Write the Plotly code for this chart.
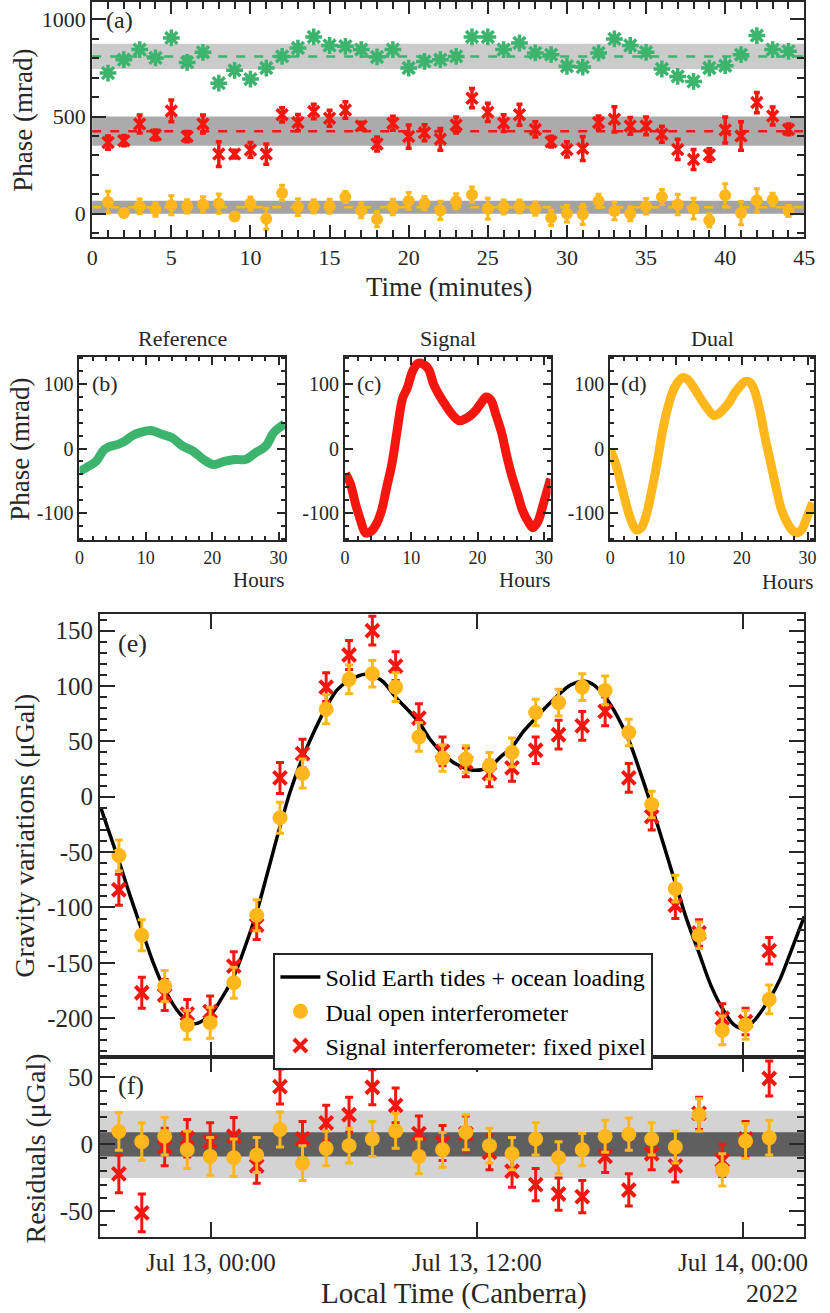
import plotly.graph_objects as go

# ---- panel (a): phase vs time, 1-minute points ----
minutes = [1, 2, 3, 4, 5, 6, 7, 8, 9, 10, 11, 12, 13, 14, 15, 16, 17, 18, 19, 20, 21, 22,
           23, 24, 25, 26, 27, 28, 29, 30, 31, 32, 33, 34, 35, 36, 37, 38, 39, 40, 41, 42, 43, 44]
ref_phase = [724, 793, 845, 802, 905, 779, 831, 672, 738, 693, 750, 810, 853, 910, 866, 862, 845,
             807, 845, 750, 784, 793, 810, 910, 910, 845, 879, 828, 819, 759, 755, 828, 900, 866,
             831, 745, 707, 681, 750, 762, 819, 917, 845, 836]
sig_phase = [366, 376, 462, 405, 529, 397, 462, 307, 307, 328, 307, 509, 469, 526, 491, 534, 452,
             359, 466, 397, 417, 383, 457, 595, 522, 466, 509, 434, 371, 331, 336, 469, 486, 452,
             452, 409, 331, 279, 302, 431, 400, 572, 503, 434]
sig_phase_err = [34, 26, 46, 26, 56, 26, 46, 64, 20, 38, 52, 37, 42, 37, 41, 43, 19, 36, 36, 60, 41,
                 56, 41, 49, 47, 43, 54, 39, 28, 39, 62, 34, 65, 43, 46, 41, 52, 52, 32, 67, 73, 52,
                 46, 28]
dual_phase = [60, 3, 38, 21, 43, 38, 48, 52, -14, 52, -26, 107, 34, 38, 38, 86, 17, -28, 34, 66, 55,
              17, 64, 98, 26, 34, 38, 26, -21, 0, -3, 66, 14, 0, 38, 86, 47, 26, -34, 95, 3, 69, 72, 14]
dual_phase_err = [56, 15, 38, 34, 49, 34, 39, 50, 15, 34, 54, 39, 43, 34, 36, 28, 38, 39, 40, 43, 34,
                  47, 39, 39, 54, 36, 33, 34, 40, 43, 52, 34, 45, 36, 40, 39, 53, 53, 34, 59, 60, 60,
                  33, 28]
# mean and spread of each series (dashed line + grey band)
ref_mean, ref_lo, ref_hi = 810, 745, 875
sig_mean, sig_lo, sig_hi = 425, 350, 500
dual_mean, dual_lo, dual_hi = 33, 0, 67

# ---- panels (b)-(d): long-term phase drift ----
ref_hours = [0, 1.3, 2.5, 3.7, 4.5, 5.7, 6.9, 8.0, 9.2, 10.8, 12.4, 13.9, 15.5, 17.1, 18.7, 20.2,
             21.8, 23.4, 25.0, 26.5, 28.1, 29.3, 30.9]
ref_drift = [-36, -28, -20, -2, 3, 6, 12, 20, 25, 28, 22, 17, 4, -4, -17, -25, -20, -17, -17, -7,
             4, 25, 38]
sig_hours = [0.1, 0.8, 1.6, 2.4, 3.1, 3.9, 4.7, 5.5, 6.3, 7.1, 7.9, 8.7, 9.4, 10.2, 11.0, 11.8, 12.6,
             13.4, 14.2, 15.0, 15.7, 16.5, 17.3, 18.1, 18.9, 19.7, 20.5, 21.3, 22.0, 22.8, 23.6,
             24.4, 25.2, 26.0, 26.8, 27.6, 28.3, 29.1, 29.9, 31.0]
sig_drift = [-39, -54, -86, -113, -131, -129, -118, -97, -60, -23, 30, 78, 94, 120, 132, 131, 123, 99,
             83, 70, 59, 49, 43, 46, 51, 59, 70, 80, 75, 51, 25, -12, -44, -70, -97, -113, -123,
             -113, -86, -47]
dual_hours = [0, 0.8, 1.6, 2.4, 3.1, 3.9, 4.7, 5.5, 6.3, 7.1, 7.9, 8.7, 9.4, 10.2, 11.0, 11.8, 12.6,
              13.4, 14.2, 15.0, 15.7, 16.5, 17.3, 18.1, 18.9, 19.7, 20.5, 21.3, 22.0, 22.8, 23.6,
              24.4, 25.2, 26.0, 26.8, 27.6, 28.3, 29.1, 29.9, 30.8]
dual_drift = [-2, -23, -54, -86, -110, -126, -123, -102, -65, -23, 25, 62, 86, 102, 110, 107, 96, 83,
              70, 59, 51, 54, 62, 72, 86, 96, 104, 102, 88, 56, 14, -23, -60, -94, -113, -126, -131,
              -126, -107, -84]

# ---- panel (e): gravity, tide model ----
tide_times = ["2022-07-12 19:02", "2022-07-12 19:51", "2022-07-12 20:22", "2022-07-12 20:53",
              "2022-07-12 21:23", "2022-07-12 21:55", "2022-07-12 22:34", "2022-07-12 23:14",
              "2022-07-12 23:58", "2022-07-13 00:29", "2022-07-13 01:02", "2022-07-13 01:33",
              "2022-07-13 02:04", "2022-07-13 02:33", "2022-07-13 03:07", "2022-07-13 03:35",
              "2022-07-13 04:08", "2022-07-13 04:41", "2022-07-13 05:12", "2022-07-13 05:43",
              "2022-07-13 06:14", "2022-07-13 06:58", "2022-07-13 07:42", "2022-07-13 08:20",
              "2022-07-13 09:21", "2022-07-13 09:55", "2022-07-13 10:27", "2022-07-13 11:01",
              "2022-07-13 11:49", "2022-07-13 12:34", "2022-07-13 13:04", "2022-07-13 13:35",
              "2022-07-13 14:06", "2022-07-13 14:39", "2022-07-13 15:13", "2022-07-13 15:41",
              "2022-07-13 16:14", "2022-07-13 16:50", "2022-07-13 17:16", "2022-07-13 17:47",
              "2022-07-13 18:18", "2022-07-13 18:51", "2022-07-13 19:20", "2022-07-13 19:53",
              "2022-07-13 20:26", "2022-07-13 20:57", "2022-07-13 21:28", "2022-07-13 22:01",
              "2022-07-13 22:34", "2022-07-13 23:04", "2022-07-13 23:36", "2022-07-13 23:58",
              "2022-07-14 00:25", "2022-07-14 01:11", "2022-07-14 01:40", "2022-07-14 02:06",
              "2022-07-14 02:46"]
tide_grav = [-10, -58, -90, -120, -149, -174, -195, -205, -197, -182, -162, -135, -104, -69, -27, 5,
             35, 60, 81, 97, 105, 110.6, 105, 90, 68, 51, 39, 30, 24, 27, 36, 45, 59, 71, 83, 92, 101,
             104.3, 101, 90, 74, 51, 24, -9, -44, -78, -111, -141, -171, -191, -206, -209, -204,
             -183, -165, -143, -108]

# ---- panels (e)/(f): hourly measurements ----
meas_times = ["2022-07-12 19:51", "2022-07-12 20:53", "2022-07-12 21:55", "2022-07-12 22:56",
              "2022-07-12 23:58", "2022-07-13 01:02", "2022-07-13 02:04", "2022-07-13 03:07",
              "2022-07-13 04:08", "2022-07-13 05:12", "2022-07-13 06:14", "2022-07-13 07:17",
              "2022-07-13 08:20", "2022-07-13 09:23", "2022-07-13 10:27", "2022-07-13 11:30",
              "2022-07-13 12:34", "2022-07-13 13:35", "2022-07-13 14:39", "2022-07-13 15:41",
              "2022-07-13 16:45", "2022-07-13 17:47", "2022-07-13 18:51", "2022-07-13 19:53",
              "2022-07-13 20:57", "2022-07-13 22:01", "2022-07-13 23:04", "2022-07-14 00:07",
              "2022-07-14 01:11"]
dual_grav = [-53, -125, -171, -206, -204, -168, -107, -19, 21, 79, 106, 111, 99, 54, 35, 34, 28, 40,
             76, 85, 99, 96, 58, -7, -83, -125, -211, -206, -183]
dual_grav_err = [14, 14, 14, 13, 14, 14, 14, 14, 13, 13, 13, 12, 13, 13, 12, 12, 12, 13, 12, 12, 12,
                 13, 12, 12, 12, 12, 13, 13, 13]
signal_grav = [-84, -177, -179, -196, -194, -153, -116, 17, 39, 99, 128, 150, 118, 71, 41, 31, 21,
               26, 42, 56, 64, 77, 17, -18, -98, -123, -200, -203, -139]
signal_grav_err = [14, 14, 14, 13, 14, 13, 13, 14, 13, 13, 13, 13, 13, 13, 13, 13, 12, 12, 12, 13, 13,
                   13, 13, 12, 12, 12, 13, 12, 12]
dual_res = [9.5, 2, 6, -4, -9, -10, -8, 11, -14, -3, -1, 4, 10, -9, -4, 9, -1, -7, 4, -10, -4, 6, 7.5,
            4, -2, 22, -19, 2.5, 5]
signal_res = [-22, -51, -2, 4.5, 2, 6, -16, 43, 4, 16, 22, 42.5, 29, 8, 1, 8, -6, -20, -30, -37, -39,
              -9, -34, -7, -16, 23, -12, 4, 49]
res_err = [14, 14, 14, 14, 14, 14, 13, 13, 13, 13, 13, 13, 13, 13, 13, 13, 13, 12, 12, 12, 12, 12,
           12, 12, 12, 12, 12, 13, 13]
res_inner, res_outer = 9, 25

# tick labels
e_ticks = [-200, -150, -100, -50, 0, 50, 100, 150]
f_ticks = [-50, 0, 50]
drift_ticks = [-100, 0, 100]
date_ticks = ["2022-07-13 00:00", "2022-07-13 12:00", "2022-07-14 00:00"]
date_labels = ["Jul 13, 00:00", "Jul 13, 12:00", "Jul 14, 00:00"]

GREEN = "#3cb46e"
RED = "#f5170f"
YEL = "#ffb71c"
AX = "#262626"
FONT = "Liberation Serif, Times New Roman, Times, DejaVu Serif, serif"

W, H = 830, 1313


def px(x0, x1):
    return [x0 / W, x1 / W]


def py(top, bottom):
    return [1 - bottom / H, 1 - top / H]


def frame(size, **kw):
    d = dict(showline=True, linecolor=AX, linewidth=2, mirror="ticks", ticks="inside",
             tickcolor=AX, tickwidth=2, showgrid=False, zeroline=False,
             tickfont=dict(size=size, color=AX, family=FONT))
    d.update(kw)
    return d


def minor(dt, ln=6):
    return dict(ticks="inside", ticklen=ln, tickwidth=1.5, tickcolor=AX, dtick=dt, showgrid=False)


fig = go.Figure()

# (a)
fig.add_scatter(x=minutes, y=ref_phase, mode="markers", showlegend=False,
                marker=dict(symbol="asterisk-open", size=14, color=GREEN,
                            line=dict(width=3.5, color=GREEN)), xaxis="x", yaxis="y")
fig.add_scatter(x=minutes, y=sig_phase, mode="markers", showlegend=False,
                error_y=dict(type="data", array=sig_phase_err, thickness=3.5, width=3, color=RED),
                marker=dict(symbol="x-thin-open", size=11, color=RED, line=dict(width=3.5, color=RED)),
                xaxis="x", yaxis="y")
fig.add_scatter(x=minutes, y=dual_phase, mode="markers", showlegend=False,
                error_y=dict(type="data", array=dual_phase_err, thickness=3, width=3, color=YEL),
                marker=dict(symbol="circle", size=12, color=YEL), xaxis="x", yaxis="y")

# (b)-(d)
for hrs, vals, col, n in [(ref_hours, ref_drift, GREEN, 2), (sig_hours, sig_drift, RED, 3),
                          (dual_hours, dual_drift, YEL, 4)]:
    fig.add_scatter(x=hrs, y=vals, mode="lines", showlegend=False,
                    line=dict(color=col, width=9, shape="spline"),
                    xaxis="x%d" % n, yaxis="y%d" % n)

# (e)
fig.add_scatter(x=tide_times, y=tide_grav, mode="lines", name="Solid Earth tides + ocean loading",
                line=dict(color="black", width=3.5, shape="spline"), legendrank=1,
                xaxis="x5", yaxis="y5")
fig.add_scatter(x=meas_times, y=signal_grav, mode="markers", name="Signal interferometer: fixed pixel",
                error_y=dict(type="data", array=signal_grav_err, thickness=3, width=4, color=RED),
                marker=dict(symbol="x-thin-open", size=13, color=RED, line=dict(width=4, color=RED)),
                legendrank=3, xaxis="x5", yaxis="y5")
fig.add_scatter(x=meas_times, y=dual_grav, mode="markers", name="Dual open interferometer",
                error_y=dict(type="data", array=dual_grav_err, thickness=3, width=4, color=YEL),
                marker=dict(symbol="circle", size=15, color=YEL), legendrank=2,
                xaxis="x5", yaxis="y5")

# (f)
fig.add_scatter(x=meas_times, y=signal_res, mode="markers", showlegend=False,
                error_y=dict(type="data", array=res_err, thickness=3, width=4, color=RED),
                marker=dict(symbol="x-thin-open", size=13, color=RED, line=dict(width=4, color=RED)),
                xaxis="x6", yaxis="y6")
fig.add_scatter(x=meas_times, y=dual_res, mode="markers", showlegend=False,
                error_y=dict(type="data", array=res_err, thickness=3, width=4, color=YEL),
                marker=dict(symbol="circle", size=15, color=YEL), xaxis="x6", yaxis="y6")

shapes = []
for lo, hi, c in [(ref_lo, ref_hi, "#cbcbcb"), (sig_lo, sig_hi, "#ababab"), (dual_lo, dual_hi, "#a3a3a3")]:
    shapes.append(dict(type="rect", xref="x domain", yref="y", x0=0, x1=1, y0=lo, y1=hi,
                       fillcolor=c, line_width=0, layer="below"))
for m, c in [(ref_mean, GREEN), (sig_mean, RED), (dual_mean, YEL)]:
    shapes.append(dict(type="line", xref="x domain", yref="y", x0=0, x1=1, y0=m, y1=m,
                       line=dict(color=c, width=2.5, dash="dash"), layer="below"))
shapes.append(dict(type="rect", xref="x6 domain", yref="y6", x0=0, x1=1, y0=-res_outer, y1=res_outer,
                   fillcolor="#d3d3d3", line_width=0, layer="below"))
shapes.append(dict(type="rect", xref="x6 domain", yref="y6", x0=0, x1=1, y0=-res_inner, y1=res_inner,
                   fillcolor="#5f5f5f", line_width=0, layer="below"))

xr = ["2022-07-12 19:00", "2022-07-14 02:46"]

fig.update_layout(
    width=W, height=H, margin=dict(l=0, r=0, t=0, b=0),
    paper_bgcolor="white", plot_bgcolor="white",
    font=dict(family=FONT, color=AX),
    shapes=shapes,
    xaxis=frame(22, domain=px(88, 815), anchor="y", range=[0, 45], dtick=5, ticklen=12,
                minor=minor(1, 7)),
    yaxis=frame(22, domain=py(2, 237), anchor="x", range=[-120, 1090], tickvals=[0, 500, 1000],
                ticklen=14, minor=minor(100, 7)),
    xaxis2=frame(18, domain=px(75, 285), anchor="y2", range=[0, 31], dtick=10, ticklen=8,
                 minor=minor(2, 4)),
    yaxis2=frame(20, domain=py(357, 540), anchor="x2", range=[-142, 142], tickvals=drift_ticks,
                 ticktext=[str(v) for v in drift_ticks], ticklen=8, minor=minor(20, 4)),
    xaxis3=frame(18, domain=px(346, 556), anchor="y3", range=[0, 31], dtick=10, ticklen=8,
                 minor=minor(2, 4)),
    yaxis3=frame(20, domain=py(357, 540), anchor="x3", range=[-142, 142], tickvals=drift_ticks,
                 ticktext=[str(v) for v in drift_ticks], ticklen=8, minor=minor(20, 4)),
    xaxis4=frame(18, domain=px(617, 825), anchor="y4", range=[0, 31], dtick=10, ticklen=8,
                 minor=minor(2, 4)),
    yaxis4=frame(20, domain=py(357, 540), anchor="x4", range=[-142, 142], tickvals=drift_ticks,
                 ticktext=[str(v) for v in drift_ticks], ticklen=8, minor=minor(20, 4)),
    xaxis5=frame(25, domain=px(96, 815), anchor="y5", type="date", range=xr, tickvals=date_ticks,
                 showticklabels=False, ticklen=15),
    yaxis5=frame(25, domain=py(614, 1057), anchor="x5", range=[-235, 165], tickvals=e_ticks,
                 ticktext=[str(v) for v in e_ticks], ticklen=15, minor=minor(10, 7)),
    xaxis6=frame(25, domain=px(96, 815), anchor="y6", type="date", range=xr, tickvals=date_ticks,
                 ticktext=date_labels, ticklen=15, ticklabelstandoff=2),
    yaxis6=frame(25, domain=py(1057, 1237), anchor="x6", range=[-69, 65], tickvals=f_ticks,
                 ticktext=[str(v) for v in f_ticks], ticklen=15, minor=minor(10, 7)),
    legend=dict(x=273 / W, y=1 - 953 / H, xanchor="left", yanchor="top", bgcolor="white",
                bordercolor=AX, borderwidth=2, font=dict(size=24, family=FONT, color="black"),
                itemwidth=40),
)


def note(text, x, y, size, xanchor="center", angle=0):
    fig.add_annotation(text=text, x=x / W, y=1 - y / H, xref="paper", yref="paper",
                       showarrow=False, xanchor=xanchor, yanchor="middle", textangle=angle,
                       font=dict(size=size, family=FONT, color=AX))


note("(a)", 100, 20, 24, "left")
note("Phase (mrad)", 17, 120, 27, angle=-90)
note("Time (minutes)", 452, 287, 27)
note("Reference", 180, 339, 22)
note("Signal", 451, 339, 22)
note("Dual", 721, 339, 22)
note("(b)", 86, 383, 22, "left")
note("(c)", 356, 383, 22, "left")
note("(d)", 626, 383, 22, "left")
note("Phase (mrad)", 14, 449, 27, angle=-90)
note("Hours", 286, 580, 21, "right")
note("Hours", 557, 580, 21, "right")
note("Hours", 826, 582, 21, "right")
note("(e)", 112, 643, 26, "left")
note("Gravity variations (μGal)", 18, 836, 28, angle=-90)
note("(f)", 112, 1085, 26, "left")
note("Residuals (μGal)", 30, 1148, 28, angle=-90)
note("Local Time (Canberra)", 457, 1293, 29)
note("2022", 782, 1293, 26)

# page body margin would shift the fixed-size figure
fig.write_html("out.html", config={"displayModeBar": False},
               post_script="document.body.style.margin='0';")
